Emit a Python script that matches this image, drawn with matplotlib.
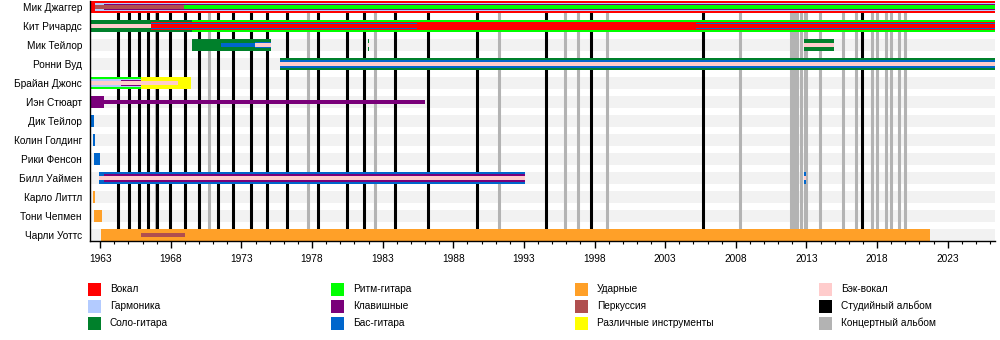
import matplotlib.pyplot as plt
from matplotlib.patches import Rectangle

plt.rcParams['font.family'] = ['Liberation Sans', 'DejaVu Sans']

# участники (сверху вниз)
members = [
    "Мик Джаггер", "Кит Ричардс", "Мик Тейлор", "Ронни Вуд", "Брайан Джонс",
    "Иэн Стюарт", "Дик Тейлор", "Колин Голдинг", "Рики Фенсон", "Билл Уаймен",
    "Карло Литтл", "Тони Чепмен", "Чарли Уоттс",
]

START = 1962.3
END = 2026.35

# (участник, роль, с, по, слой) - слой 0 = полная полоса, 3 = самая узкая
periods = [
    (0, "vocals", START, END, 0),
    (0, "harmonica", 1962.62, END, 1),
    (0, "keys", 1963.26, END, 2),
    (0, "percussion", 1962.62, 1968.9, 3),
    (0, "rhythm", 1968.9, END, 3),

    (1, "lead", START, 1969.47, 0),
    (1, "rhythm", 1969.47, END, 0),
    (1, "backing", START, 1966.59, 3),
    (1, "vocals", 1966.59, END, 1),
    (1, "bass", 1966.59, 1985.4, 2),
    (1, "bass", 2005.2, END, 2),
    (1, "vocals", 1966.59, END, 3),

    (2, "lead", 1969.47, 1975.09, 0),
    (2, "bass", 1971.55, 1973.96, 3),
    (2, "bass", 1973.96, 1975.09, 2),
    (2, "backing", 1973.96, 1975.09, 3),
    (2, "lead", 1981.95, 1982.03, 0),
    (2, "backing", 1981.95, 1982.03, 3),
    (2, "lead", 2012.84, 2014.96, 0),
    (2, "backing", 2012.84, 2014.96, 3),

    (3, "lead", 1975.73, END, 0),
    (3, "bass", 1975.73, END, 1),
    (3, "backing", 1975.73, END, 3),

    (4, "rhythm", START, 1965.92, 0),
    (4, "various", 1965.92, 1969.45, 0),
    (4, "harmonica", START, 1965.92, 1),
    (4, "keys", 1964.47, 1965.92, 2),
    (4, "backing", START, 1968.52, 3),

    (5, "keys", START, 1963.3, 0),
    (5, "keys", 1963.3, 1985.99, 3),

    (6, "bass", START, 1962.55, 0),
    (7, "bass", 1962.48, 1962.62, 0),
    (8, "bass", 1962.55, 1962.98, 0),

    (9, "bass", 1962.9, 1993.08, 0),
    (9, "keys", 1963.26, 1993.08, 1),
    (9, "backing", 1962.9, 1993.08, 3),
    (9, "bass", 2012.84, 2012.98, 0),
    (9, "backing", 2012.84, 2012.98, 3),

    (10, "drums", 1962.48, 1962.62, 0),
    (11, "drums", 1962.55, 1963.12, 0),
    (12, "drums", 1963.05, 2021.76, 0),
    (12, "percussion", 1965.88, 1969.0, 3),
]

studio_albums = [
    1964.27, 1965.05, 1965.76, 1966.36, 1967.04, 1967.96, 1969.02, 1969.99,
    1971.36, 1972.38, 1973.65, 1974.78, 1976.24, 1978.44, 1980.49, 1981.70,
    1983.89, 1986.23, 1989.70, 1994.59, 1997.77, 2005.71, 2016.94,
]
live_albums = [
    1966.92, 1970.72, 1977.73, 1982.48, 1991.26, 1995.93, 1996.85, 1998.91,
    2008.33, 2011.88, 2012.09, 2012.30, 2012.59, 2012.87, 2012.94, 2013.93,
    2015.56, 2016.48, 2017.63, 2017.97, 2018.61, 2018.96, 2019.53, 2019.95,
]

legend_keys = [
    ["vocals", "harmonica", "lead"],
    ["rhythm", "keys", "bass"],
    ["drums", "percussion", "various"],
    ["backing", "studio", "live"],
]
legend_labels = {
    "vocals": "Вокал", "harmonica": "Гармоника", "lead": "Соло-гитара",
    "rhythm": "Ритм-гитара", "keys": "Клавишные", "bass": "Бас-гитара",
    "drums": "Ударные", "percussion": "Перкуссия",
    "various": "Различные инструменты", "backing": "Бэк-вокал",
    "studio": "Студийный альбом", "live": "Концертный альбом",
}

colors = {
    "vocals": "#ff0000", "harmonica": "#b3cbff", "lead": "#00802b",
    "rhythm": "#00ff00", "keys": "#7a007a", "bass": "#0066cc",
    "drums": "#ffa028", "percussion": "#b04f4f", "various": "#ffff00",
    "backing": "#ffcccc", "studio": "#000000", "live": "#b3b3b3",
}
row_px = 19.0
layer_h = {0: 12 / row_px, 1: 8 / row_px, 2: 6 / row_px, 3: 4 / row_px}
fs = 7.3

fig = plt.figure(figsize=(10, 3.4), dpi=100)
ax = fig.add_axes([0.0903, 1 - 241 / 340, 0.995 - 0.0903, 241 / 340 - 0.0015])

n = len(members)
rows = list(range(n))

# фон строк
ax.barh(rows, END - START, left=START, height=layer_h[0],
        color="#f2f2f2", linewidth=0, zorder=0)

for x in live_albums:
    ax.axvline(x, color=colors["live"], lw=2.2, zorder=1)
for x in studio_albums:
    ax.axvline(x, color=colors["studio"], lw=2.2, zorder=1)

for m, role, a, b, layer in periods:
    ax.barh(m, b - a, left=a, height=layer_h[layer], color=colors[role],
            linewidth=0, zorder=2 + layer)

ax.set_xlim(START, END)
ax.set_ylim(n - 1 + 0.33, -0.34)

ax.set_yticks(rows)
ax.set_yticklabels(members)
ax.tick_params(axis="y", length=0, pad=6, labelsize=fs)

ax.set_xticks(range(1963, 2024, 5))
ax.set_xticks(range(1963, 2027), minor=True)
ax.tick_params(axis="x", which="major", length=5, width=1, labelsize=fs, pad=4)
ax.tick_params(axis="x", which="minor", length=2.5, width=0.8)

for s in ["top", "right"]:
    ax.spines[s].set_visible(False)
for s in ["left", "bottom"]:
    ax.spines[s].set_linewidth(1.0)
    ax.spines[s].set_zorder(10)

# легенда
lax = fig.add_axes([0, 0, 1, 1])
lax.set_xlim(0, 1000)
lax.set_ylim(340, 0)
lax.axis("off")
sq_x = [88, 331, 575, 819]
row_y = [289, 306, 323]
for c, col in enumerate(legend_keys):
    for r, key in enumerate(col):
        lax.add_patch(Rectangle((sq_x[c], row_y[r] - 6.5), 12.7, 13,
                                color=colors[key], linewidth=0))
        lax.text(sq_x[c] + 22, row_y[r], legend_labels[key], fontsize=fs,
                 va="center", ha="left")

fig.savefig("out.png", dpi=100)
